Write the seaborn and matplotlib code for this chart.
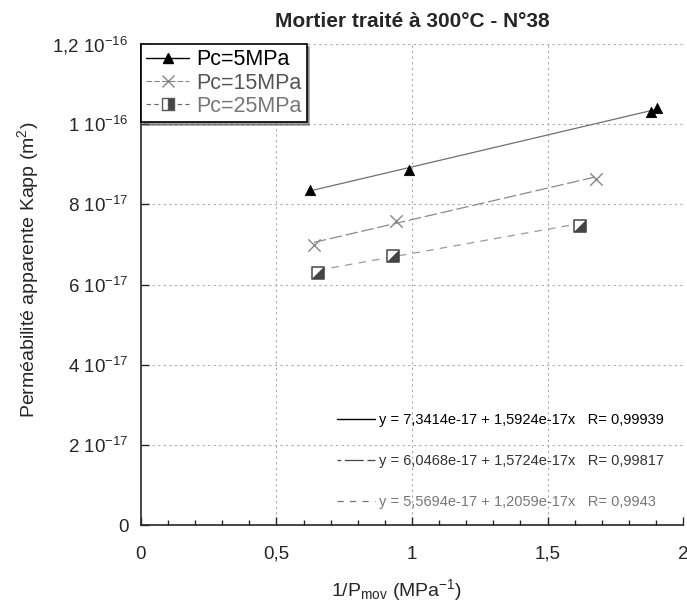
import numpy as np
import pandas as pd
import matplotlib
matplotlib.use("Agg")
import matplotlib.pyplot as plt
from matplotlib.lines import Line2D
from matplotlib.path import Path
import seaborn as sns

# --- data ---
x_5 = [0.624, 0.989, 1.882, 1.904]
k_5 = [8.36e-17, 8.86e-17, 1.030e-16, 1.040e-16]
x_15 = [0.638, 0.941, 1.679]
k_15 = [6.99e-17, 7.58e-17, 8.63e-17]
x_25 = [0.653, 0.930, 1.620]
k_25 = [6.29e-17, 6.71e-17, 7.46e-17]

series = ["Pc=5MPa", "Pc=15MPa", "Pc=25MPa"]
intercepts = [7.3414e-17, 6.0468e-17, 5.5694e-17]
slopes = [1.5924e-17, 1.5724e-17, 1.2059e-17]
fit_labels = ["y = 7,3414e-17 + 1,5924e-17x   R= 0,99939",
              "y = 6,0468e-17 + 1,5724e-17x   R= 0,99817",
              "y = 5,5694e-17 + 1,2059e-17x   R= 0,9943"]

y_ticks = [0, 2e-17, 4e-17, 6e-17, 8e-17, 1e-16, 1.2e-16]
y_ticklabels = ["0", r"2 10$^{-17}$", r"4 10$^{-17}$", r"6 10$^{-17}$",
                r"8 10$^{-17}$", r"1 10$^{-16}$", r"1,2 10$^{-16}$"]
x_ticks = [0, 0.5, 1, 1.5, 2]
x_ticklabels = ["0", "0,5", "1", "1,5", "2"]

sns.set_style("ticks")
plt.rcParams["font.family"] = ["Liberation Sans", "DejaVu Sans"]
plt.rcParams["mathtext.fontset"] = "custom"
plt.rcParams["mathtext.rm"] = "Liberation Sans"
plt.rcParams["mathtext.it"] = "Liberation Sans"
plt.rcParams["xtick.direction"] = "in"
plt.rcParams["ytick.direction"] = "in"

fig = plt.figure(figsize=(6.87, 6.05), dpi=100)
ax = fig.add_axes([0.2052, 0.1322, 0.7890, 0.7951])

# half-filled square marker (lower right triangle)
half_tri = Path([(1, -1), (1, 1), (-1, -1), (1, -1)],
                [Path.MOVETO, Path.LINETO, Path.LINETO, Path.CLOSEPOLY])

line_colors = ["#707070", "#8a8a8a", "#9a9a9a"]
dashes = [None, (10, 3), (6, 5)]
xs_all = [x_5, x_15, x_25]

# fitted lines
for xs, a, b, c, d in zip(xs_all, intercepts, slopes, line_colors, dashes):
    xf = np.array([min(xs), max(xs)])
    df_fit = pd.DataFrame({"x": xf, "y": a + b * xf})
    if d is None:
        sns.lineplot(data=df_fit, x="x", y="y", ax=ax, color=c, lw=0.9)
    else:
        sns.lineplot(data=df_fit, x="x", y="y", ax=ax, color=c, lw=0.9,
                     dashes=False, linestyle=(0, d))

# points
sns.scatterplot(x=x_5, y=k_5, ax=ax, marker="^", s=55, color="black",
                edgecolor="black", zorder=5)
sns.scatterplot(x=x_15, y=k_15, ax=ax, marker="x", s=80, color="#888888",
                linewidth=1.0, zorder=5)
sns.scatterplot(x=x_25, y=k_25, ax=ax, marker="s", s=80, facecolor="white",
                edgecolor="#555555", linewidth=1.2, zorder=5)
sns.scatterplot(x=x_25, y=k_25, ax=ax, marker=half_tri, s=80, color="#444444",
                edgecolor="none", zorder=6)

ax.set_xlim(0, 2)
ax.set_ylim(0, 1.2e-16)
ax.set_xticks(x_ticks)
ax.set_xticklabels(x_ticklabels)
ax.set_xticks(np.arange(0, 2.01, 0.1), minor=True)
ax.set_yticks(y_ticks)
ax.set_yticklabels(y_ticklabels)
ax.tick_params(which="major", direction="in", length=6, width=1, labelsize=13.5)
ax.tick_params(which="minor", direction="in", length=3.5, width=1)
ax.tick_params(axis="x", which="both", top=False, direction="in", pad=15)
ax.tick_params(axis="y", which="both", right=False, direction="in", pad=9)
for s in ["top", "right"]:
    ax.spines[s].set_visible(False)
for s in ["left", "bottom"]:
    ax.spines[s].set_linewidth(1.2)

for xv in [0.5, 1, 1.5]:
    ax.axvline(xv, color="#aaaaaa", lw=0.8, ls=(0, (2, 3)), zorder=0)
for yv in y_ticks[1:]:
    ax.axhline(yv, color="#aaaaaa", lw=0.8, ls=(0, (2, 3)), zorder=0)

ax.set_xlabel(r"1/P$_{\mathrm{mov}}$ (MPa$^{-1}$)", fontsize=14)
ax.set_ylabel(r"Perméabilité apparente Kapp (m$^{2}$)", fontsize=14)
ax.xaxis.set_label_coords(0.472, -0.108)
ax.yaxis.set_label_coords(-0.184, 0.53)
ax.set_title("Mortier traité à 300°C - N°38", fontsize=15, fontweight="bold", pad=12)

# series legend
h1 = Line2D([], [], color="black", lw=1, marker="^", ms=7)
h2 = Line2D([], [], color="#888888", lw=0.8, ls=(0, (5, 2)), marker="x", ms=8)
h3 = Line2D([], [], color="#666666", lw=0.8, ls=(0, (4, 3)), marker="s", ms=8,
            markerfacecolor="#444444", markerfacecoloralt="white", fillstyle="right",
            markeredgecolor="#555555")
leg = ax.legend([h1, h2, h3], series, loc="upper left", bbox_to_anchor=(0.0, 1.0),
                borderaxespad=0.0, fontsize=15.5, frameon=True, fancybox=False,
                shadow=True, edgecolor="black", framealpha=1, handlelength=2.0,
                labelspacing=0.1, borderpad=0.25, handletextpad=0.3,
                labelcolor=["black", "#555555", "#777777"])
leg.get_frame().set_linewidth(1.2)
ax.add_artist(leg)

# fit equation legend
f1 = Line2D([], [], color="black", lw=1)
f2 = Line2D([], [], color="#444444", lw=0.9, ls=(0, (3, 3, 12, 0)))
f3 = Line2D([], [], color="#777777", lw=0.9, ls=(0, (5, 5)))
leg2 = ax.legend([f1, f2, f3], fit_labels, loc="lower right",
                 bbox_to_anchor=(0.99, 0.006), fontsize=10.5, frameon=False,
                 handlelength=2.6, labelspacing=1.85, handletextpad=0.3,
                 labelcolor=["black", "#333333", "#777777"])

fig.savefig("out.png", dpi=100)
